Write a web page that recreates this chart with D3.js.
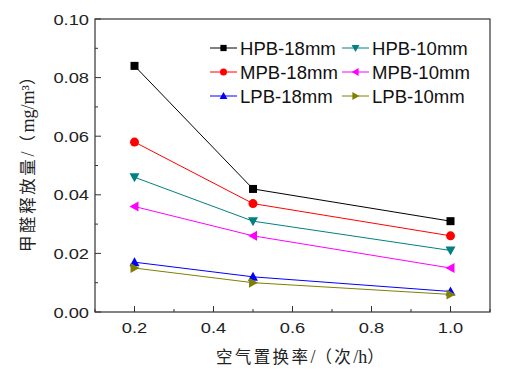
<!DOCTYPE html>
<html><head><meta charset="utf-8">
<script src="https://cdn.jsdelivr.net/npm/d3@7"></script>
<style>body{margin:0;background:#fff}svg{display:block}</style>
</head><body>
<svg id="c" width="520" height="376"></svg>
<script>
const xValues = [0.2, 0.5, 1.0];
const seriesNames = ["HPB-18mm","HPB-10mm","MPB-18mm","MPB-10mm","LPB-18mm","LPB-10mm"];
const hpb18 = [0.084, 0.042, 0.031];
const hpb10 = [0.046, 0.031, 0.021];
const mpb18 = [0.058, 0.037, 0.026];
const mpb10 = [0.036, 0.026, 0.015];
const lpb18 = [0.017, 0.012, 0.007];
const lpb10 = [0.015, 0.010, 0.006];
const xTicks = [0.2, 0.4, 0.6, 0.8, 1.0];
const yTicks = [0.00, 0.02, 0.04, 0.06, 0.08, 0.10];
const xTitle = "空气置换率/（次/h）";
const yTitle = "甲醛释放量/（mg/m³）";

const colors = ["#000000","#008080","#ff0000","#ff00ff","#0000ff","#808000"];
const shapes = ["square","down","circle","left","up","right"];
const values = [hpb18, hpb10, mpb18, mpb10, lpb18, lpb10];

const svg = d3.select("#c");
const L = 95, R = 490, T = 19, B = 312;
const x = d3.scaleLinear().domain([0.1, 1.1]).range([L, R]);
const y = d3.scaleLinear().domain([0, 0.10]).range([B, T]);
const sx = 1.18;

// frame
svg.append("rect").attr("x", L).attr("y", T).attr("width", R-L).attr("height", B-T)
  .attr("fill","none").attr("stroke","#333").attr("stroke-width",1.2);

// ticks
const g = svg.append("g").attr("stroke","#333").attr("stroke-width",1);
d3.range(0.1, 1.1001, 0.1).forEach(v => {
  const major = xTicks.some(t => Math.abs(t-v)<1e-6);
  g.append("line").attr("x1", x(v)).attr("x2", x(v)).attr("y1", B).attr("y2", B-(major?6:3));
});
d3.range(0, 0.10001, 0.01).forEach(v => {
  const major = yTicks.some(t => Math.abs(t-v)<1e-6);
  g.append("line").attr("x1", L).attr("x2", L+(major?6:3)).attr("y1", y(v)).attr("y2", y(v));
});

const font = "'Liberation Sans', Arial, sans-serif";
xTicks.forEach(t => {
  svg.append("text").attr("transform", `translate(${x(t)},333) scale(${sx},1)`)
    .attr("text-anchor","middle").attr("font-family",font).attr("font-size",15.5)
    .attr("fill","#222").text(d3.format(".1f")(t));
});
yTicks.forEach(t => {
  svg.append("text").attr("transform", `translate(89,${y(t)+5.5}) scale(${sx},1)`)
    .attr("text-anchor","end").attr("font-family",font).attr("font-size",15.5)
    .attr("fill","#222").text(d3.format(".2f")(t));
});

// titles: CJK glyphs spaced, latin glyphs normal
const cjk = "'Liberation Serif','Noto Sans CJK SC',serif";
function spacedText(t, str, sp) {
  const re = /([\u3000-\u9fff\uff00-\uffef]+)|([^\u3000-\u9fff\uff00-\uffef]+)/g;
  let m;
  while ((m = re.exec(str))) {
    t.append("tspan").attr("letter-spacing", m[1] ? sp : 0)
      .attr("font-size", m[1] ? 16.5 : 18).text(m[0]);
  }
}
const xt = svg.append("text").attr("x", 301).attr("y", 363).attr("text-anchor","middle")
  .attr("font-family",cjk).attr("font-size",16.5).attr("fill","#222");
spacedText(xt, xTitle, 2.4);
const yt = svg.append("text").attr("transform","translate(34,159) rotate(-90)").attr("text-anchor","middle")
  .attr("font-family",cjk).attr("font-size",16.5).attr("fill","#222");
spacedText(yt, yTitle, 2.6);

function marker(sel, shape, color, cx, cy, k) {
  k = k || 1;
  const s = 5*k;
  if (shape === "square") {
    sel.append("rect").attr("x", cx-4*k).attr("y", cy-4*k).attr("width", 8*k).attr("height", 8*k).attr("fill", color);
  } else if (shape === "circle") {
    sel.append("circle").attr("cx", cx).attr("cy", cy).attr("r", 4.5*k).attr("fill", color);
  } else {
    let pts;
    if (shape === "up") pts = [[0,-s],[s,s*0.8],[-s,s*0.8]];
    if (shape === "down") pts = [[0,s],[s,-s*0.8],[-s,-s*0.8]];
    if (shape === "left") pts = [[-s,0],[s*0.8,-s],[s*0.8,s]];
    if (shape === "right") pts = [[s,0],[-s*0.8,-s],[-s*0.8,s]];
    sel.append("polygon").attr("points", pts.map(p => [cx+p[0], cy+p[1]].join(",")).join(" ")).attr("fill", color);
  }
}

const line = d3.line().x(d => x(d[0])).y(d => y(d[1]));
values.forEach((vals, i) => {
  const pts = xValues.map((xv, j) => [xv, vals[j]]);
  svg.append("path").attr("d", line(pts)).attr("fill","none").attr("stroke", colors[i]).attr("stroke-width",1);
  const mg = svg.append("g");
  pts.forEach(p => marker(mg, shapes[i], colors[i], x(p[0]), y(p[1])));
});

// legend
const legCols = [210, 342];
const legRows = [48, 72, 96];
seriesNames.forEach((name, i) => {
  const cx = legCols[i % 2], cy = legRows[Math.floor(i/2)];
  svg.append("line").attr("x1", cx).attr("x2", cx+27).attr("y1", cy).attr("y2", cy).attr("stroke", colors[i]).attr("stroke-width",1);
  marker(svg, shapes[i], colors[i], cx+13.5, cy, 0.78);
  svg.append("text").attr("transform", `translate(${cx+30},${cy+6.5}) scale(1.06,1)`)
    .attr("font-family",font).attr("font-size",17.5).attr("fill","#111").text(name);
});
</script>
</body></html>
